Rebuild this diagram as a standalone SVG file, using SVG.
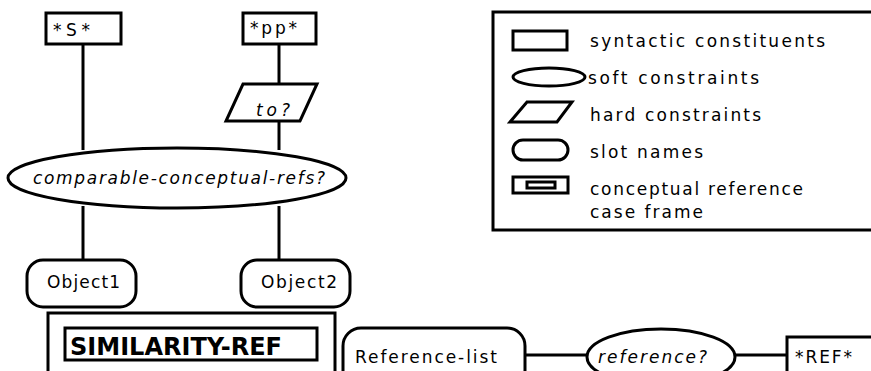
<svg xmlns="http://www.w3.org/2000/svg" width="871" height="371" viewBox="0 0 871 371">
<style>
.s{fill:#fff;stroke:#000;stroke-width:3}
.l{stroke:#000;stroke-width:3;fill:none}
.t{font-family:"DejaVu Sans","Liberation Sans",sans-serif;font-size:17px;fill:#000}
.i{font-style:italic}
.b{font-weight:bold;font-size:24px}
</style>
<rect width="871" height="371" fill="#fff"/>
<g id="connectors">
<line class="l" x1="83" y1="44" x2="83" y2="150"/>
<line class="l" x1="83" y1="206" x2="83" y2="261"/>
<line class="l" x1="279" y1="44" x2="279" y2="85"/>
<line class="l" x1="279" y1="120" x2="279" y2="150"/>
<line class="l" x1="279" y1="206" x2="279" y2="261"/>
<line class="l" x1="524" y1="355" x2="588" y2="355"/>
<line class="l" x1="734" y1="355" x2="788" y2="355"/>
</g>
<g id="n-S">
<rect class="s" x="46" y="13" width="75" height="31"/>
<text class="t" x="53" y="36" textLength="37" lengthAdjust="spacing">*S*</text>
</g>
<g id="n-pp">
<rect class="s" x="243" y="13" width="73" height="31"/>
<text class="t" x="250" y="34" textLength="47" lengthAdjust="spacing">*pp*</text>
</g>
<g id="n-to">
<polygon class="s" points="243,84 317,84 300,121 226,121"/>
<text class="t i" x="256" y="116" textLength="34" lengthAdjust="spacing">to?</text>
</g>
<g id="n-comparable">
<ellipse class="s" cx="177" cy="178" rx="169" ry="30"/>
<text class="t i" x="33" y="184" textLength="292" lengthAdjust="spacing">comparable-conceptual-refs?</text>
</g>
<g id="n-object1">
<rect class="s" x="27" y="260" width="109" height="47" rx="16"/>
<text class="t" x="47" y="288" textLength="73" lengthAdjust="spacing">Object1</text>
</g>
<g id="n-object2">
<rect class="s" x="241" y="260" width="109" height="47" rx="16"/>
<text class="t" x="261" y="288" textLength="76" lengthAdjust="spacing">Object2</text>
</g>
<g id="n-similarity">
<rect class="s" x="48" y="313" width="287" height="80"/>
<rect class="s" x="65" y="328" width="252" height="32" stroke-width="3.5"/>
<text class="t b" x="70" y="355" textLength="212" lengthAdjust="spacingAndGlyphs">SIMILARITY-REF</text>
</g>
<g id="n-reflist">
<rect class="s" x="343" y="328" width="182" height="60" rx="18"/>
<text class="t" x="355" y="363" textLength="142" lengthAdjust="spacing">Reference-list</text>
</g>
<g id="n-reference">
<ellipse class="s" cx="661" cy="357" rx="74" ry="28"/>
<text class="t i" x="598" y="363" textLength="109" lengthAdjust="spacing">reference?</text>
</g>
<g id="n-REF">
<rect class="s" x="787" y="337" width="90" height="50"/>
<text class="t" x="795" y="363" textLength="57" lengthAdjust="spacing">*REF*</text>
</g>
<g id="legend">
<rect class="s" x="493" y="12" width="380" height="218"/>
<rect class="s" x="513" y="31" width="54" height="19"/>
<text class="t" x="590" y="47" textLength="235" lengthAdjust="spacing">syntactic constituents</text>
<ellipse class="s" cx="549" cy="77" rx="36" ry="9"/>
<text class="t" x="588" y="84" textLength="171" lengthAdjust="spacing">soft constraints</text>
<polygon class="s" points="527,102 572,102 557,122 510,122"/>
<text class="t" x="590" y="121" textLength="171" lengthAdjust="spacing">hard constraints</text>
<rect class="s" x="513" y="140" width="55" height="20" rx="10"/>
<text class="t" x="590" y="158" textLength="113" lengthAdjust="spacing">slot names</text>
<rect class="s" x="513" y="177" width="55" height="16"/>
<rect class="s" x="527" y="182" width="28" height="6" stroke-width="2"/>
<text class="t" x="590" y="195" textLength="213" lengthAdjust="spacing">conceptual reference</text>
<text class="t" x="590" y="218" textLength="113" lengthAdjust="spacing">case frame</text>
</g>
</svg>
